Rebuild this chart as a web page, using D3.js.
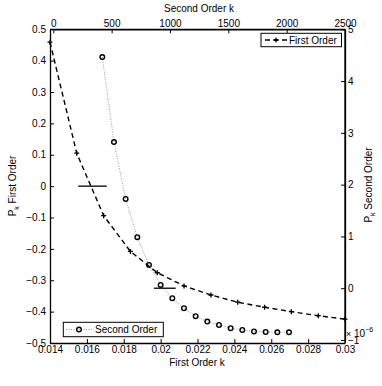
<!DOCTYPE html>
<html>
<head>
<meta charset="utf-8">
<script src="https://cdn.jsdelivr.net/npm/d3@7"></script>
<style>
  html, body { margin: 0; padding: 0; background: #fff; }
  text { font-family: "Liberation Sans", Arial, Helvetica, sans-serif; font-size: 10px; fill: #000; }
</style>
</head>
<body>
<svg id="chart" width="382" height="386"></svg>
<script>
// ---- data ----
const firstK = [0.01400, 0.01545, 0.01691, 0.01836, 0.01982, 0.02127, 0.02273, 0.02418, 0.02564, 0.02709, 0.02855, 0.03000];
const firstP = [0.459, 0.105, -0.094, -0.208, -0.276, -0.318, -0.347, -0.370, -0.386, -0.400, -0.413, -0.424];
const secondK = [420, 520, 620, 720, 820, 920, 1020, 1120, 1220, 1320, 1420, 1520, 1620, 1720, 1820, 1920, 2020];
const secondP = [4.465, 2.824, 1.724, 0.985, 0.450, 0.064, -0.193, -0.386, -0.540, -0.645, -0.708, -0.772, -0.805, -0.835, -0.845, -0.850, -0.850]; // x 1e-6
const firstZeroSeg = [0.01553, 0.01708];
const secondZeroSeg = [863, 1049];
const bottomTicks = [0.014, 0.016, 0.018, 0.02, 0.022, 0.024, 0.026, 0.028, 0.03];
const leftTicks = [-0.5, -0.4, -0.3, -0.2, -0.1, 0, 0.1, 0.2, 0.3, 0.4, 0.5];
const topTicks = [0, 500, 1000, 1500, 2000, 2500];
const rightTicks = [-1, 0, 1, 2, 3, 4, 5];

const svg = d3.select("#chart");
svg.append("rect").attr("width", 382).attr("height", 386).attr("fill", "#fff");

// scales
const x1 = d3.scaleLinear().domain([0.014, 0.03]).range([50, 345]);
const y1 = d3.scaleLinear().domain([-0.5, 0.5]).range([343, 29.3]);
const x2 = d3.scaleLinear().domain([0, 2500]).range([53.3, 345]);
const y2 = d3.scaleLinear().domain([-1, 5]).range([340, 29.3]);

const fmt = v => (v < 0 ? "\u2212" : "") + String(Math.abs(+v.toFixed(4)));

// axes
function styleAxis(g) {
  g.select(".domain").attr("stroke", "#000").attr("stroke-width", 1.3);
  g.selectAll(".tick line").attr("stroke", "#000").attr("stroke-width", 1);
  g.selectAll(".tick text").style("font-size", "10px").attr("fill", "#000");
}
svg.append("g").attr("transform", "translate(0,343)")
  .call(d3.axisBottom(x1).tickValues(bottomTicks).tickFormat(fmt).tickSizeInner(-4).tickSizeOuter(0).tickPadding(3))
  .call(styleAxis);
svg.append("g").attr("transform", "translate(50,0)")
  .call(d3.axisLeft(y1).tickValues(leftTicks).tickFormat(fmt).tickSizeInner(-4).tickSizeOuter(0).tickPadding(4))
  .call(styleAxis);
svg.append("g").attr("transform", "translate(0,29.3)")
  .call(d3.axisTop(x2).tickValues(topTicks).tickFormat(fmt).tickSizeInner(-4).tickSizeOuter(0).tickPadding(2))
  .call(styleAxis);
svg.append("g").attr("transform", "translate(345,0)")
  .call(d3.axisRight(y2).tickValues(rightTicks).tickFormat(fmt).tickSizeInner(-4).tickSizeOuter(0).tickPadding(3))
  .call(styleAxis);
// box edges
svg.append("line").attr("x1", 50).attr("x2", 345).attr("y1", 29.3).attr("y2", 29.3).attr("stroke", "#000").attr("stroke-width", 1.3);
svg.append("line").attr("x1", 345).attr("x2", 345).attr("y1", 29.3).attr("y2", 343).attr("stroke", "#000").attr("stroke-width", 1.3);

// series: first order (dashed with +)
const line1 = d3.line().x((d, i) => x1(firstK[i])).y(d => y1(d));
svg.append("path").datum(firstP).attr("d", line1)
  .attr("fill", "none").attr("stroke", "#000").attr("stroke-width", 1.4).attr("stroke-dasharray", "5,3.5");
const plus = d3.symbol().type(d3.symbolCross);
function drawPlus(g, cx, cy) {
  g.append("path").attr("d", `M${cx - 2.5},${cy}H${cx + 2.5}M${cx},${cy - 2.5}V${cy + 2.5}`)
    .attr("stroke", "#000").attr("stroke-width", 1.3).attr("fill", "none");
}
const gPlus = svg.append("g");
firstP.forEach((v, i) => drawPlus(gPlus, x1(firstK[i]), y1(v)));

// series: second order (dotted gray with o)
const line2 = d3.line().x((d, i) => x2(secondK[i])).y(d => y2(d));
svg.append("path").datum(secondP).attr("d", line2)
  .attr("fill", "none").attr("stroke", "#999").attr("stroke-width", 1).attr("stroke-dasharray", "1,1.5");
svg.append("g").selectAll("circle").data(secondP).join("circle")
  .attr("cx", (d, i) => x2(secondK[i])).attr("cy", d => y2(d)).attr("r", 2.3)
  .attr("fill", "none").attr("stroke", "#000").attr("stroke-width", 1.4);

// zero-crossing segments
svg.append("line").attr("x1", x1(firstZeroSeg[0])).attr("x2", x1(firstZeroSeg[1]))
  .attr("y1", y1(0)).attr("y2", y1(0)).attr("stroke", "#000").attr("stroke-width", 1.3);
svg.append("line").attr("x1", x2(secondZeroSeg[0])).attr("x2", x2(secondZeroSeg[1]))
  .attr("y1", y2(0)).attr("y2", y2(0)).attr("stroke", "#000").attr("stroke-width", 1.3);

// legends
const lg1 = svg.append("g");
lg1.append("rect").attr("x", 261).attr("y", 33.3).attr("width", 80.5).attr("height", 13.4)
  .attr("fill", "#fff").attr("stroke", "#000").attr("stroke-width", 1);
lg1.append("line").attr("x1", 265).attr("x2", 287).attr("y1", 40).attr("y2", 40)
  .attr("stroke", "#000").attr("stroke-width", 1.4).attr("stroke-dasharray", "5,3.5");
drawPlus(lg1, 276, 40);
lg1.append("text").attr("x", 289).attr("y", 43.6).text("First Order");

const lg2 = svg.append("g");
lg2.append("rect").attr("x", 63.3).attr("y", 322.3).attr("width", 100).attr("height", 14.4)
  .attr("fill", "#fff").attr("stroke", "#000").attr("stroke-width", 1);
lg2.append("line").attr("x1", 66).attr("x2", 92).attr("y1", 329.5).attr("y2", 329.5)
  .attr("stroke", "#999").attr("stroke-width", 1).attr("stroke-dasharray", "1,1.5");
lg2.append("circle").attr("cx", 79).attr("cy", 329.5).attr("r", 2.3)
  .attr("fill", "none").attr("stroke", "#000").attr("stroke-width", 1.4);
lg2.append("text").attr("x", 95).attr("y", 333.2).text("Second Order");

// axis titles
svg.append("text").attr("x", 199).attr("y", 12).attr("text-anchor", "middle").text("Second Order k");
svg.append("text").attr("x", 197).attr("y", 366).attr("text-anchor", "middle").text("First Order k");
const lt = svg.append("text").attr("transform", "translate(16,186) rotate(-90)").attr("text-anchor", "middle");
lt.append("tspan").text("P");
lt.append("tspan").attr("dy", 3).style("font-size", "7px").text("k");
lt.append("tspan").attr("dy", -3).text(" First Order");
const rt = svg.append("text").attr("transform", "translate(372,185) rotate(-90)").attr("text-anchor", "middle");
rt.append("tspan").text("P");
rt.append("tspan").attr("dy", 3).style("font-size", "7px").text("k");
rt.append("tspan").attr("dy", -3).text(" Second Order");

// exponent label
const ex = svg.append("text").attr("x", 346).attr("y", 337);
ex.append("tspan").style("font-size", "9px").text("\u00d7");
ex.append("tspan").text(" 10");
ex.append("tspan").attr("dy", -5).style("font-size", "7px").text("\u22126");
</script>
</body>
</html>
